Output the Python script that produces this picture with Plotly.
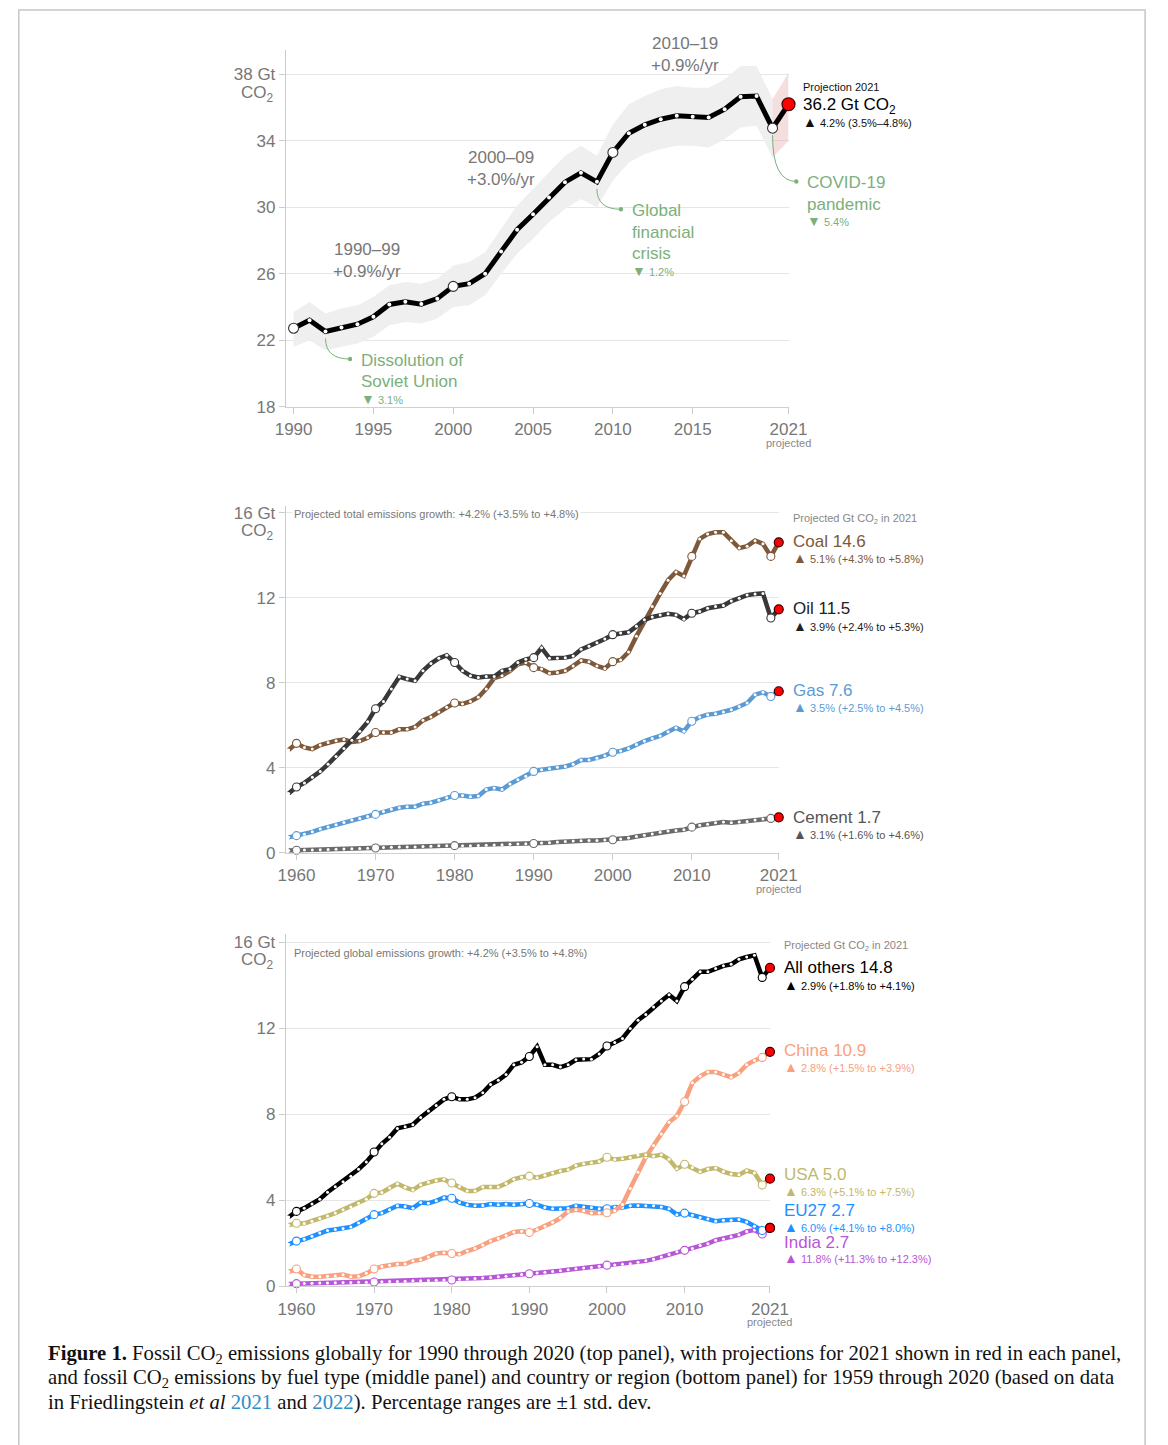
import plotly.graph_objects as go

W, H = 1168, 1445
FONT = "Liberation Sans, Arial, DejaVu Sans, sans-serif"
SERIF = "Liberation Serif, Times New Roman, serif"
GRAY_TXT = "#777777"
GREEN = "#7bb07b"

# ---------------- data: top panel (global fossil CO2, Gt) ----------------
years_top = list(range(1990, 2022))
global_co2 = [22.72, 23.20, 22.52, 22.76, 22.96, 23.41, 24.15, 24.31, 24.17, 24.50,
              25.24, 25.40, 26.00, 27.33, 28.65, 29.58, 30.58, 31.51, 32.07, 31.53,
              33.30, 34.46, 34.96, 35.30, 35.51, 35.45, 35.41, 35.90, 36.65, 36.69,
              34.76, 36.20]
band_years = list(range(1990, 2021))
band_high = [23.7, 24.3, 23.6, 23.9, 24.1, 24.6, 25.3, 25.5, 25.4, 25.7,
             26.5, 26.7, 27.3, 28.7, 30.1, 31.1, 32.1, 33.1, 33.7, 33.1,
             35.0, 36.2, 36.7, 37.1, 37.3, 37.2, 37.2, 37.7, 38.5, 38.5, 36.5]
band_low = [21.6, 22.0, 21.4, 21.6, 21.8, 22.2, 22.9, 23.1, 23.0, 23.3,
            24.0, 24.1, 24.7, 26.0, 27.2, 28.1, 29.1, 29.9, 30.5, 30.0,
            31.6, 32.7, 33.2, 33.5, 33.7, 33.7, 33.6, 34.1, 34.8, 34.9, 33.0]
proj_years = [2020, 2021]
proj_high = [36.5, 38.1]
proj_low = [33.0, 34.0]
top_circle_years = [1990, 2000, 2010, 2020]

# ---------------- data: middle panel (by fuel, Gt CO2) ----------------
years_long = list(range(1959, 2022))
coal = [4.84, 5.15, 4.96, 4.88, 5.07, 5.19, 5.27, 5.33, 5.22, 5.26,
        5.41, 5.66, 5.66, 5.66, 5.81, 5.81, 5.92, 6.23, 6.39, 6.62,
        6.85, 7.05, 7.00, 7.12, 7.32, 7.71, 8.22, 8.33, 8.56, 8.87,
        8.95, 8.71, 8.64, 8.45, 8.48, 8.56, 8.79, 9.05, 8.99, 8.79,
        8.67, 8.99, 9.07, 9.44, 10.19, 10.88, 11.58, 12.20, 12.82, 13.21,
        13.02, 13.94, 14.76, 14.99, 15.07, 15.07, 14.68, 14.33, 14.42, 14.68,
        14.53, 13.94, 14.60]
oil = [2.79, 3.10, 3.29, 3.55, 3.83, 4.17, 4.53, 4.91, 5.30, 5.72,
       6.16, 6.78, 7.12, 7.71, 8.28, 8.17, 8.09, 8.56, 8.90, 9.15,
       9.29, 8.95, 8.56, 8.33, 8.25, 8.29, 8.29, 8.56, 8.64, 8.95,
       9.10, 9.18, 9.64, 9.15, 9.15, 9.18, 9.26, 9.57, 9.72, 9.88,
       10.06, 10.26, 10.34, 10.37, 10.65, 10.96, 11.09, 11.19, 11.24, 11.19,
       10.99, 11.27, 11.35, 11.50, 11.58, 11.63, 11.84, 11.97, 12.12, 12.17,
       12.20, 11.04, 11.45]
gas = [0.73, 0.81, 0.88, 0.99, 1.12, 1.22, 1.32, 1.43, 1.55, 1.62,
       1.71, 1.81, 1.94, 2.05, 2.12, 2.17, 2.17, 2.31, 2.36, 2.47,
       2.59, 2.70, 2.70, 2.64, 2.67, 2.98, 3.05, 2.98, 3.24, 3.44,
       3.60, 3.83, 3.91, 3.95, 4.03, 4.06, 4.17, 4.37, 4.37, 4.45,
       4.57, 4.73, 4.79, 4.91, 5.10, 5.26, 5.38, 5.50, 5.69, 5.88,
       5.72, 6.19, 6.39, 6.50, 6.54, 6.62, 6.73, 6.88, 7.05, 7.44,
       7.55, 7.35, 7.60]
cement = [0.11, 0.12, 0.13, 0.14, 0.15, 0.16, 0.17, 0.18, 0.19, 0.20,
          0.22, 0.23, 0.25, 0.26, 0.28, 0.28, 0.28, 0.30, 0.31, 0.33,
          0.34, 0.34, 0.34, 0.34, 0.35, 0.36, 0.37, 0.38, 0.40, 0.42,
          0.43, 0.44, 0.46, 0.48, 0.51, 0.54, 0.56, 0.57, 0.58, 0.58,
          0.60, 0.62, 0.65, 0.70, 0.77, 0.83, 0.89, 0.97, 1.03, 1.05,
          1.09, 1.21, 1.30, 1.35, 1.42, 1.45, 1.42, 1.45, 1.48, 1.55,
          1.59, 1.62, 1.67]

# ---------------- data: bottom panel (by country/region, Gt CO2) ----------------
others = [3.22, 3.48, 3.63, 3.82, 4.05, 4.37, 4.63, 4.86, 5.12, 5.44,
          5.78, 6.24, 6.62, 6.93, 7.34, 7.42, 7.51, 7.85, 8.15, 8.41,
          8.69, 8.81, 8.69, 8.69, 8.77, 9.00, 9.38, 9.58, 9.84, 10.30,
          10.41, 10.68, 11.14, 10.30, 10.30, 10.19, 10.30, 10.53, 10.57, 10.56,
          10.80, 11.17, 11.33, 11.52, 11.98, 12.37, 12.64, 12.98, 13.26, 13.55,
          13.26, 13.93, 14.28, 14.62, 14.62, 14.77, 14.90, 14.97, 15.20, 15.31,
          15.39, 14.36, 14.80]
china = [0.67, 0.80, 0.52, 0.44, 0.44, 0.46, 0.49, 0.54, 0.44, 0.46,
         0.60, 0.80, 0.92, 0.98, 1.03, 1.03, 1.18, 1.23, 1.36, 1.52,
         1.56, 1.52, 1.49, 1.64, 1.75, 1.92, 2.10, 2.22, 2.36, 2.52,
         2.56, 2.50, 2.64, 2.79, 2.97, 3.17, 3.48, 3.56, 3.51, 3.40,
         3.40, 3.42, 3.51, 3.80, 4.55, 5.30, 6.00, 6.55, 7.08, 7.62,
         7.92, 8.58, 9.46, 9.76, 9.96, 9.96, 9.84, 9.72, 9.92, 10.30,
         10.50, 10.64, 10.90]
usa = [2.84, 2.93, 2.92, 3.02, 3.15, 3.27, 3.40, 3.56, 3.68, 3.86,
       4.05, 4.32, 4.36, 4.57, 4.77, 4.60, 4.47, 4.72, 4.84, 4.92,
       4.97, 4.80, 4.64, 4.43, 4.43, 4.61, 4.62, 4.62, 4.78, 4.98,
       5.07, 5.12, 5.05, 5.16, 5.27, 5.36, 5.42, 5.61, 5.69, 5.74,
       5.80, 6.00, 5.89, 5.93, 5.99, 6.10, 6.12, 6.05, 6.12, 5.90,
       5.46, 5.67, 5.52, 5.32, 5.45, 5.50, 5.33, 5.22, 5.18, 5.38,
       5.27, 4.71, 5.00]
eu27 = [1.95, 2.10, 2.18, 2.33, 2.48, 2.59, 2.64, 2.68, 2.76, 2.94,
        3.13, 3.33, 3.40, 3.56, 3.74, 3.71, 3.63, 3.89, 3.86, 3.97,
        4.12, 4.09, 3.89, 3.79, 3.74, 3.75, 3.82, 3.79, 3.82, 3.79,
        3.82, 3.85, 3.79, 3.66, 3.60, 3.59, 3.63, 3.74, 3.68, 3.66,
        3.60, 3.60, 3.68, 3.66, 3.74, 3.75, 3.74, 3.74, 3.68, 3.60,
        3.33, 3.40, 3.30, 3.20, 3.13, 3.02, 3.07, 3.07, 3.10, 2.99,
        2.79, 2.59, 2.71]
india = [0.11, 0.12, 0.13, 0.14, 0.15, 0.15, 0.16, 0.17, 0.17, 0.19,
         0.19, 0.20, 0.21, 0.22, 0.22, 0.23, 0.25, 0.26, 0.27, 0.28,
         0.29, 0.29, 0.32, 0.34, 0.36, 0.38, 0.41, 0.44, 0.47, 0.51,
         0.55, 0.58, 0.62, 0.65, 0.68, 0.72, 0.77, 0.81, 0.85, 0.87,
         0.93, 0.98, 0.99, 1.02, 1.05, 1.11, 1.18, 1.26, 1.36, 1.48,
         1.60, 1.67, 1.76, 1.90, 1.98, 2.14, 2.20, 2.30, 2.39, 2.55,
         2.61, 2.43, 2.71]
long_circle_years = [1960, 1970, 1980, 1990, 2000, 2010, 2020]

COL_COAL, COL_OIL, COL_GAS, COL_CEM = "#7d5839", "#383838", "#5b9bd5", "#6a6a6a"
COL_OTH, COL_CHN, COL_USA, COL_EU, COL_IND = "#000000", "#f9a07e", "#c2b86c", "#1e90ff", "#b955d8"

# ---------------- panel geometry (pixels) ----------------
panels = {
    "top": dict(xa="x", ya="y", xpx=(282, 798), xr=(1989.51, 2021), ypx=(408, 48), yr=(18, 39.49)),
    "mid": dict(xa="x2", ya="y2", xpx=(282, 788), xr=(1958.64, 2021), ypx=(858, 508), yr=(0, 16.32)),
    "bot": dict(xa="x3", ya="y3", xpx=(282, 779), xr=(1958.62, 2021), ypx=(1295, 940), yr=(0, 16.37)),
}


def to_px(p, x, y):
    g = panels[p]
    px = g["xpx"][0] + (x - g["xr"][0]) / (g["xr"][1] - g["xr"][0]) * (g["xpx"][1] - g["xpx"][0])
    py = g["ypx"][0] + (y - g["yr"][0]) / (g["yr"][1] - g["yr"][0]) * (g["ypx"][1] - g["ypx"][0])
    return px, py


def PX(px):
    return px / W


def PY(py):
    return 1 - py / H


fig = go.Figure()


def add_series(p, years, vals, color, width, dot, csize, cline, rsize, circle_years):
    g = panels[p]
    common = dict(xaxis=g["xa"], yaxis=g["ya"], hoverinfo="skip", showlegend=False, cliponaxis=False)
    fig.add_trace(go.Scatter(x=years, y=vals, mode="lines",
                             line=dict(color=color, width=width), **common))
    fig.add_trace(go.Scatter(x=years[:-1], y=vals[:-1], mode="markers",
                             marker=dict(color="white", size=dot, line=dict(width=0)), **common))
    cx = [yr for yr in years if yr in circle_years]
    cy = [vals[years.index(yr)] for yr in cx]
    fig.add_trace(go.Scatter(x=cx, y=cy, mode="markers",
                             marker=dict(color="white", size=csize, line=dict(color=cline, width=1.1)), **common))
    fig.add_trace(go.Scatter(x=years[-1:], y=vals[-1:], mode="markers",
                             marker=dict(color="#ff0000", size=rsize, line=dict(color="#3a0000", width=1.2)), **common))


# ---- top panel bands ----
fig.add_trace(go.Scatter(x=band_years, y=band_high, mode="lines", line=dict(width=0, color="#eeeeee"),
                         xaxis="x", yaxis="y", hoverinfo="skip", showlegend=False))
fig.add_trace(go.Scatter(x=band_years, y=band_low, mode="lines", line=dict(width=0, color="#eeeeee"),
                         fill="tonexty", fillcolor="#efefef",
                         xaxis="x", yaxis="y", hoverinfo="skip", showlegend=False))
fig.add_trace(go.Scatter(x=proj_years, y=proj_high, mode="lines", line=dict(width=0, color="#f0d4d4"),
                         xaxis="x", yaxis="y", hoverinfo="skip", showlegend=False, cliponaxis=False))
fig.add_trace(go.Scatter(x=proj_years, y=proj_low, mode="lines", line=dict(width=0, color="#f0d4d4"),
                         fill="tonexty", fillcolor="rgba(226,160,160,0.35)",
                         xaxis="x", yaxis="y", hoverinfo="skip", showlegend=False, cliponaxis=False))

add_series("top", years_top, global_co2, "#000000", 5, 4, 10, "#333333", 13, top_circle_years)

for vals, col in [(cement, COL_CEM), (gas, COL_GAS), (coal, COL_COAL), (oil, COL_OIL)]:
    add_series("mid", years_long, vals, col, 4.5, 3, 8, col, 9, long_circle_years)

for vals, col in [(india, COL_IND), (eu27, COL_EU), (china, COL_CHN), (usa, COL_USA), (others, COL_OTH)]:
    add_series("bot", years_long, vals, col, 4.5, 3, 8, col, 9, long_circle_years)

# ---------------- axes ----------------
axis_font = dict(family=FONT, size=17, color=GRAY_TXT)
tick_cfg = {
    "top": dict(xt=[1990, 1995, 2000, 2005, 2010, 2015, 2021],
                yt=[18, 22, 26, 30, 34, 38], ytext=["18", "22", "26", "30", "34", "38 Gt"]),
    "mid": dict(xt=[1960, 1970, 1980, 1990, 2000, 2010, 2021],
                yt=[0, 4, 8, 12, 16], ytext=["0", "4", "8", "12", "16 Gt"]),
    "bot": dict(xt=[1960, 1970, 1980, 1990, 2000, 2010, 2021],
                yt=[0, 4, 8, 12, 16], ytext=["0", "4", "8", "12", "16 Gt"]),
}
layout_axes = {}
for i, p in enumerate(["top", "mid", "bot"]):
    g = panels[p]
    t = tick_cfg[p]
    sfx = "" if i == 0 else str(i + 1)
    layout_axes["xaxis" + sfx] = dict(
        domain=[PX(g["xpx"][0]), PX(g["xpx"][1])], range=list(g["xr"]), anchor="y" + sfx,
        tickvals=t["xt"], ticktext=[str(v) for v in t["xt"]], showgrid=False, zeroline=False,
        showline=True, linecolor="#d0d0d0", linewidth=1, ticks="outside", ticklen=6,
        tickcolor="#cccccc", tickfont=axis_font, fixedrange=True, ticklabelstandoff=1)
    layout_axes["yaxis" + sfx] = dict(
        domain=[PY(g["ypx"][0]), PY(g["ypx"][1])], range=list(g["yr"]), anchor="x" + sfx,
        tickvals=t["yt"], ticktext=t["ytext"], showgrid=True, gridcolor="#e6e6e6", gridwidth=1,
        zeroline=False, showline=True, linecolor="#cccccc", linewidth=1, ticks="outside",
        ticklen=6, tickcolor="#cccccc", tickfont=axis_font, fixedrange=True)

annotations = []
shapes = []


def ann(px, py, text, size=17, color=GRAY_TXT, xanchor="left", family=FONT, bg=None):
    a = dict(x=PX(px), y=PY(py), xref="paper", yref="paper", text=text,
             showarrow=False, xanchor=xanchor, yanchor="middle",
             font=dict(family=family, size=size, color=color))
    if bg:
        a["bgcolor"] = bg
        a["borderpad"] = 1
    annotations.append(a)


# CO2 unit labels and "projected"
for py in (93, 534, 967):
    ann(272, py, "CO<sub>2</sub>", 17, GRAY_TXT, "right")
for p, py in (("top", 445), ("mid", 894), ("bot", 1331)):
    ann(to_px(p, 2021, 0)[0], py, "projected", 11, "#888888", "center")

# period growth labels (top)
for cx, cy, l1, l2 in ((365, 250, "1990–99", "+0.9%/yr"), (503, 157, "2000–09", "+3.0%/yr"),
                       (692, 42, "2010–19", "+0.9%/yr")):
    ann(cx, cy, l1, 17, GRAY_TXT, "center")
    ann(cx, cy + 22, l2, 17, GRAY_TXT, "center")

# projection label (top)
ann(811, 86, "Projection 2021", 11, "#111111")
ann(811, 105, "36.2 Gt CO<sub>2</sub>", 17, "#000000")
ann(811, 121, "<span style='font-size:14px'>▲</span> 4.2% (3.5%–4.8%)", 11, "#111111")

# green event annotations with curved connectors
events = [
    (1992, 22.52, (348, 360), ["Dissolution of", "Soviet Union"], "3.1%"),
    (2009, 31.53, (626, 209), ["Global", "financial", "crisis"], "1.2%"),
    (2020, 34.76, (806, 181), ["COVID-19", "pandemic"], "5.4%"),
]
for ex, ey, (dx, dy), lines, pct in events:
    sx, sy = to_px("top", ex, ey)
    sy += 7
    shapes.append(dict(type="path", xref="paper", yref="paper",
                       path=f"M {PX(sx)},{PY(sy)} Q {PX(sx)},{PY(dy)} {PX(dx)},{PY(dy)}",
                       line=dict(color=GREEN, width=1)))
    shapes.append(dict(type="circle", xref="paper", yref="paper",
                       x0=PX(dx - 2.2), x1=PX(dx + 2.2), y0=PY(dy + 2.2), y1=PY(dy - 2.2),
                       fillcolor=GREEN, line=dict(width=0)))
    ty = dy + 1
    for ln in lines:
        ann(dx + 9, ty, ln, 17, GREEN)
        ty += 22
    ann(dx + 9, ty - 5, f"<span style='font-size:14px'>▼</span> {pct}", 11, GREEN)

# middle panel labels
ann(288, 516, "Projected total emissions growth: +4.2% (+3.5% to +4.8%)", 11, GRAY_TXT, bg="white")
ann(801, 521, "Projected Gt CO<sub>2</sub> in 2021", 11, "#888888")
for name, rng, col, y1 in (("Coal 14.6", "5.1% (+4.3% to +5.8%)", COL_COAL, 544),
                           ("Oil 11.5", "3.9% (+2.4% to +5.3%)", "#222222", 612),
                           ("Gas 7.6", "3.5% (+2.5% to +4.5%)", COL_GAS, 694),
                           ("Cement 1.7", "3.1% (+1.6% to +4.6%)", "#555555", 822)):
    ann(801, y1, name, 17, col)
    ann(801, y1 + 17, f"<span style='font-size:14px'>▲</span> {rng}", 11, col)

# bottom panel labels
ann(288, 959, "Projected global emissions growth: +4.2% (+3.5% to +4.8%)", 11, GRAY_TXT, bg="white")
ann(791, 952, "Projected Gt CO<sub>2</sub> in 2021", 11, "#888888")
for name, rng, col, y1, dy2 in (("All others 14.8", "2.9% (+1.8% to +4.1%)", "#000000", 974, 17),
                                ("China 10.9", "2.8% (+1.5% to +3.9%)", COL_CHN, 1057, 17),
                                ("USA 5.0", "6.3% (+5.1% to +7.5%)", COL_USA, 1182, 17),
                                ("EU27 2.7", "6.0% (+4.1% to +8.0%)", COL_EU, 1219, 16),
                                ("India 2.7", "11.8% (+11.3% to +12.3%)", COL_IND, 1251, 16)):
    ann(791, y1, name, 17, col)
    ann(791, y1 + dy2, f"<span style='font-size:14px'>▲</span> {rng}", 11, col)

# caption
LINK = "#2a8fc9"
cap = [
    "<b>Figure 1.</b> Fossil CO<sub>2</sub> emissions globally for 1990 through 2020 (top panel), "
    "with projections for 2021 shown in red in each panel,",
    "and fossil CO<sub>2</sub> emissions by fuel type (middle panel) and country or region "
    "(bottom panel) for 1959 through 2020 (based on data",
    f"in Friedlingstein <i>et al</i> <span style='color:{LINK}'>2021</span> and "
    f"<span style='color:{LINK}'>2022</span>). Percentage ranges are ±1 std. dev.",
]
for i, line in enumerate(cap):
    ann(36, 1364 + 24 * i, line, 20.7, "#111111", "left", SERIF)

# figure frame
shapes.append(dict(type="rect", xref="paper", yref="paper", x0=PX(8), x1=PX(1164),
                   y0=-0.02, y1=PY(8), line=dict(color="#c6c6c6", width=1.5), layer="below"))

fig.update_layout(width=W, height=H, margin=dict(l=0, r=0, t=0, b=0),
                  paper_bgcolor="white", plot_bgcolor="white",
                  font=dict(family=FONT), annotations=annotations, shapes=shapes,
                  showlegend=False, **layout_axes)

fig.write_html("out.html", config={"displayModeBar": False},
               post_script="document.body.style.margin='0';document.body.style.overflow='hidden';")
